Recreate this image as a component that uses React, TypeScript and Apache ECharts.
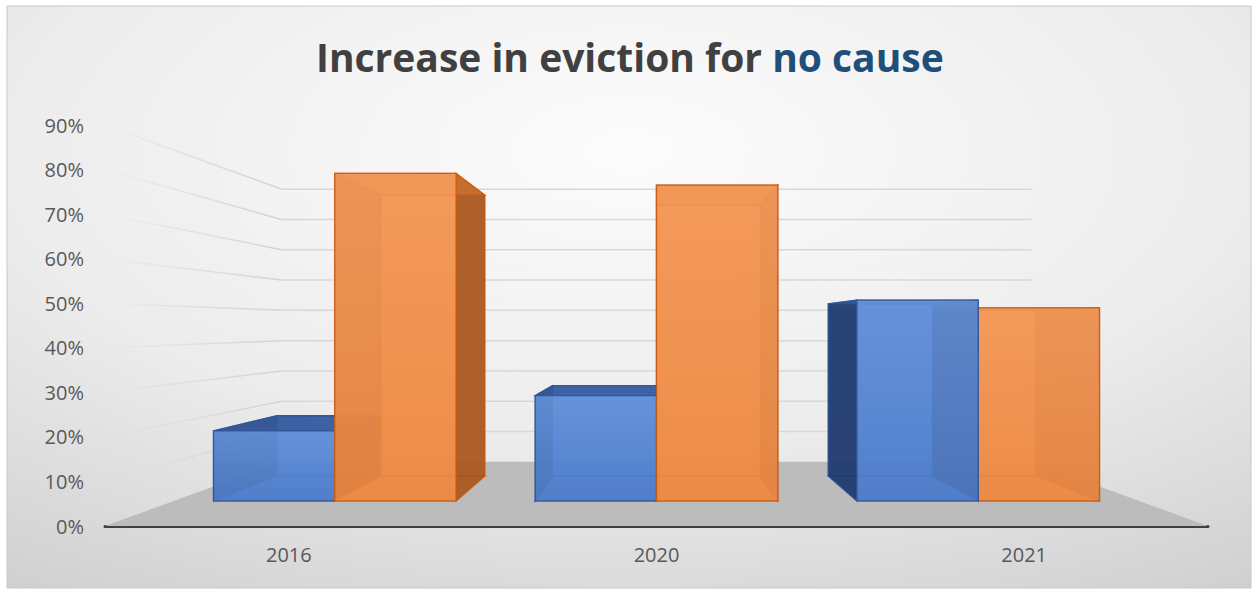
import React, { useEffect, useRef } from "react";
import * as echarts from "echarts";

// ---- data ----
const categories = ["2016", "2020", "2021"];
const blueValues = [18, 27, 51.5];
const orangeValues = [84, 81, 49.5];
const yTicks = [0, 10, 20, 30, 40, 50, 60, 70, 80, 90];
const titleMain = "Increase in eviction for ";
const titleAccent = "no cause";

// ---- perspective / style constants ----
const S_BACK = 0.68;
const S_BAR_FRONT = 0.875;
const S_BAR_BACK = 0.75;
const VP_Y_RATIO = 0.5;
const BAR_FRACTION = 0.377;
const FONT = "'Open Sans', 'Noto Sans', sans-serif";

const PALETTE = [
  {
    frontTop: "#6594de",
    frontBottom: "#4f7dca",
    back: "#4674c2",
    bottom: "#4674c2",
    side: "#1d3361",
    top: "#35599c",
    stroke: "#2f5597",
  },
  {
    frontTop: "#f69b5a",
    frontBottom: "#ee8a45",
    back: "#e6823c",
    bottom: "#e6823c",
    side: "#a0541f",
    top: "#cc6c2a",
    stroke: "#c55a11",
  },
];

function proj(x: number, y: number, s: number, vp: number[]) {
  return [vp[0] + (x - vp[0]) * s, vp[1] + (y - vp[1]) * s];
}

export default function App() {
  const ref = useRef<HTMLDivElement>(null);
  useEffect(() => {
    if (!ref.current) return;
    const chart = echarts.init(ref.current, null, { renderer: "svg" });

    const wallData = yTicks.map((v) => [0, v]);
    const barData: number[][] = [];
    categories.forEach((_, i) => {
      barData.push([i, blueValues[i], 0]);
      barData.push([i, orangeValues[i], 1]);
    });

    const option: any = {
      animation: false,
      graphic: [
        {
          type: "rect",
          z: -10,
          silent: true,
          shape: { x: 7, y: 6, width: 1244, height: 582 },
          style: {
            fill: {
              type: "radial",
              x: 0.5,
              y: 0.25,
              r: 1.12,
              colorStops: [
                { offset: 0, color: "#fcfcfc" },
                { offset: 0.45, color: "#ececec" },
                { offset: 1, color: "#c0c0c0" },
              ],
            },
            stroke: "#c8c8c8",
            lineWidth: 1,
          },
        },
      ],
      title: {
        left: 311,
        top: 32,
        text: `{a|${titleMain}}{b|${titleAccent}}`,
        textStyle: {
          rich: {
            a: { fontFamily: FONT, fontSize: 39, fontWeight: "bold", color: "#404040" },
            b: { fontFamily: FONT, fontSize: 39, fontWeight: "bold", color: "#1f4e79" },
          },
        },
      },
      grid: { left: 105, right: 45, top: 125, bottom: 64 },
      xAxis: {
        type: "category",
        data: categories,
        boundaryGap: true,
        axisLine: { show: true, lineStyle: { color: "#404040", width: 3 } },
        axisTick: { show: false },
        axisLabel: { color: "#595959", fontFamily: FONT, fontSize: 20, margin: 18 },
        splitLine: { show: false },
      },
      yAxis: {
        type: "value",
        min: 0,
        max: 90,
        interval: 10,
        axisLine: { show: false },
        axisTick: { show: false },
        splitLine: { show: false },
        axisLabel: {
          color: "#595959",
          fontFamily: FONT,
          fontSize: 20,
          margin: 21,
          formatter: "{value}%",
        },
      },
      series: [
        {
          type: "custom",
          z: 1,
          silent: true,
          data: wallData,
          encode: { x: 0, y: 1 },
          renderItem: (params: any, api: any) => {
            const cs = params.coordSys;
            const v = api.value(1);
            const vp = [cs.x + cs.width / 2, cs.y + cs.height * VP_Y_RATIO];
            const yF = api.coord([0, v])[1];
            const xL = cs.x;
            const xR = cs.x + cs.width;
            const kL = proj(xL, yF, S_BACK, vp);
            const kR = proj(xR, yF, S_BACK, vp);
            if (v === 0) {
              return {
                type: "polygon",
                shape: { points: [[xL, yF], [xR, yF], kR, kL] },
                style: { fill: "#bcbcbc" },
              };
            }
            return {
              type: "group",
              children: [
                {
                  type: "line",
                  shape: { x1: xL, y1: yF, x2: kL[0], y2: kL[1] },
                  style: {
                    stroke: {
                      type: "linear",
                      x: 0,
                      y: 0,
                      x2: 1,
                      y2: 0,
                      colorStops: [
                        { offset: 0, color: "rgba(215,215,215,0)" },
                        { offset: 0.3, color: "rgba(215,215,215,0.4)" },
                        { offset: 1, color: "rgba(210,210,210,1)" },
                      ],
                    },
                    lineWidth: 1.5,
                  },
                },
                {
                  type: "line",
                  shape: { x1: kL[0], y1: kL[1], x2: kR[0], y2: kR[1] },
                  style: { stroke: "#d8d8d8", lineWidth: 1.5 },
                },
              ],
            };
          },
        },
        {
          type: "custom",
          z: 3,
          silent: true,
          data: barData,
          encode: { x: 0, y: 1 },
          renderItem: (params: any, api: any) => {
            const cs = params.coordSys;
            const ci = api.value(0);
            const v = api.value(1);
            const si = api.value(2);
            const pal = PALETTE[si];
            const vp = [cs.x + cs.width / 2, cs.y + cs.height * VP_Y_RATIO];
            const band = api.size([1, 0])[0];
            const base = api.coord([ci, 0]);
            const cx = base[0];
            const y0 = base[1];
            const y1 = api.coord([ci, v])[1];
            const bw = band * BAR_FRACTION;
            const x0 = si === 0 ? cx - bw : cx;
            const x1 = x0 + bw;
            const dist = Math.abs((x0 + x1) / 2 - vp[0]);
            const zBase = Math.round((3000 - dist) * 10);
            const f = (x: number, y: number) => proj(x, y, S_BAR_FRONT, vp);
            const b = (x: number, y: number) => proj(x, y, S_BAR_BACK, vp);
            const face = (pts: number[][], fill: any, k: number, op = 0.82) => ({
              type: "polygon",
              z2: zBase + k,
              shape: { points: pts },
              style: { fill, stroke: pal.stroke, lineWidth: 1.3, opacity: op },
            });
            return {
              type: "group",
              children: [
                face([b(x0, y1), b(x1, y1), b(x1, y0), b(x0, y0)], pal.back, 0),
                face([f(x0, y0), f(x1, y0), b(x1, y0), b(x0, y0)], pal.bottom, 1),
                face([f(x0, y1), b(x0, y1), b(x0, y0), f(x0, y0)], pal.side, 2),
                face([f(x1, y1), b(x1, y1), b(x1, y0), f(x1, y0)], pal.side, 3),
                face([f(x0, y1), f(x1, y1), b(x1, y1), b(x0, y1)], pal.top, 4),
                face(
                  [f(x0, y1), f(x1, y1), f(x1, y0), f(x0, y0)],
                  {
                    type: "linear",
                    x: 0,
                    y: 0,
                    x2: 0,
                    y2: 1,
                    colorStops: [
                      { offset: 0, color: pal.frontTop },
                      { offset: 1, color: pal.frontBottom },
                    ],
                  },
                  5,
                  0.85
                ),
              ],
            };
          },
        },
      ],
    };
    chart.setOption(option);
    return () => chart.dispose();
  }, []);
  return (
    <div
      ref={ref}
      style={{ position: "absolute", left: 0, top: 0, width: 1253, height: 590, background: "#ffffff" }}
    />
  );
}
